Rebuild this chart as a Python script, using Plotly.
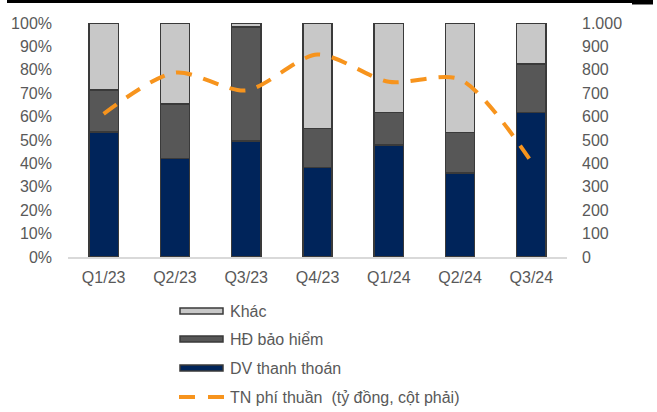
import plotly.graph_objects as go

# Quarterly fee-income structure (share of total) and net fee income
quarters = ["Q1/23", "Q2/23", "Q3/23", "Q4/23", "Q1/24", "Q2/24", "Q3/24"]
dv_thanh_toan = [0.535, 0.422, 0.496, 0.382, 0.479, 0.360, 0.617]
hd_bao_hiem = [0.179, 0.232, 0.486, 0.168, 0.138, 0.173, 0.208]
khac = [round(1 - a - b, 3) for a, b in zip(dv_thanh_toan, hd_bao_hiem)]
tn_phi_thuan = [612, 788, 712, 865, 749, 759, 407]

W, H = 657, 412
L, R, T, B = 68, 567, 23, 257  # plot area in pixels

NAVY = "#00245A"
DARK = "#575757"
LIGHT = "#C8C8C8"
EDGE = "#3A3A3A"
ORANGE = "#F7941D"
TXT = "#595959"
FONT = "Liberation Sans, Arial, sans-serif"
FS = 16

fig = go.Figure()
for name, vals, col in [("DV thanh thoán", dv_thanh_toan, NAVY),
                        ("HĐ bảo hiểm", hd_bao_hiem, DARK),
                        ("Khác", khac, LIGHT)]:
    fig.add_trace(go.Bar(x=quarters, y=vals, name=name,
                         marker=dict(color=col, line=dict(color=EDGE, width=1.5)),
                         showlegend=False))

fig.add_trace(go.Scatter(x=quarters, y=tn_phi_thuan, yaxis="y2", mode="lines",
                         name="TN phí thuần (tỷ đồng, cột phải)",
                         line=dict(color=ORANGE, width=4, dash="16px,12px",
                                   shape="spline", smoothing=0.8),
                         showlegend=False))


def px_x(p):
    return (p - L) / (R - L)


def px_y(p):
    return (B - p) / (B - T)


shapes = [
    # black rule across the top
    dict(type="rect", xref="paper", yref="paper", x0=px_x(7), x1=px_x(653),
         y0=px_y(3), y1=px_y(0), fillcolor="black", line=dict(width=0), layer="above"),
    dict(type="rect", xref="paper", yref="paper", x0=px_x(632), x1=px_x(653),
         y0=px_y(4.5), y1=px_y(0), fillcolor="black", line=dict(width=0), layer="above"),
]
annotations = []

# hand-built legend below the chart
legend_items = [("Khác", LIGHT, 311), ("HĐ bảo hiểm", DARK, 339),
                ("DV thanh thoán", NAVY, 368)]
for label, col, yc in legend_items:
    shapes.append(dict(type="rect", xref="paper", yref="paper",
                       x0=px_x(180), x1=px_x(223), y0=px_y(yc + 3), y1=px_y(yc - 3),
                       fillcolor=col, line=dict(color=EDGE, width=1.5)))
    annotations.append(dict(text=label, xref="paper", yref="paper", x=px_x(228),
                            y=px_y(yc), xanchor="left", yanchor="middle", showarrow=False,
                            font=dict(family=FONT, size=FS, color=TXT)))
for x0, x1 in [(179, 195), (208, 224)]:
    shapes.append(dict(type="line", xref="paper", yref="paper", x0=px_x(x0), x1=px_x(x1),
                       y0=px_y(397), y1=px_y(397), line=dict(color=ORANGE, width=4)))
annotations.append(dict(text="TN phí thuần  (tỷ đồng, cột phải)", xref="paper", yref="paper",
                        x=px_x(228), y=px_y(397), xanchor="left", yanchor="middle",
                        showarrow=False, font=dict(family=FONT, size=FS, color=TXT)))

fig.update_layout(
    width=W, height=H,
    margin=dict(l=L, r=W - R, t=T, b=H - B, pad=0),
    paper_bgcolor="white", plot_bgcolor="white",
    barmode="stack", bargap=0.59,
    font=dict(family=FONT, size=FS, color=TXT),
    xaxis=dict(showgrid=False, showline=True, linecolor="#D9D9D9", linewidth=1.5,
               ticks="", ticklabelstandoff=5, tickfont=dict(size=FS, color=TXT)),
    yaxis=dict(range=[0, 1], tickvals=[i / 10 for i in range(11)],
               ticktext=[f"{i * 10}%" for i in range(11)], showgrid=False,
               zeroline=False, ticks="", ticklabelstandoff=15,
               tickfont=dict(size=FS, color=TXT)),
    yaxis2=dict(range=[0, 1000], overlaying="y", side="right",
                tickvals=list(range(0, 1001, 100)),
                ticktext=[f"{v:,}".replace(",", ".") for v in range(0, 1001, 100)],
                showgrid=False, zeroline=False, ticks="", ticklabelstandoff=14,
                tickfont=dict(size=FS, color=TXT)),
    shapes=shapes, annotations=annotations,
    showlegend=False,
)

fig.write_html("out.html")
